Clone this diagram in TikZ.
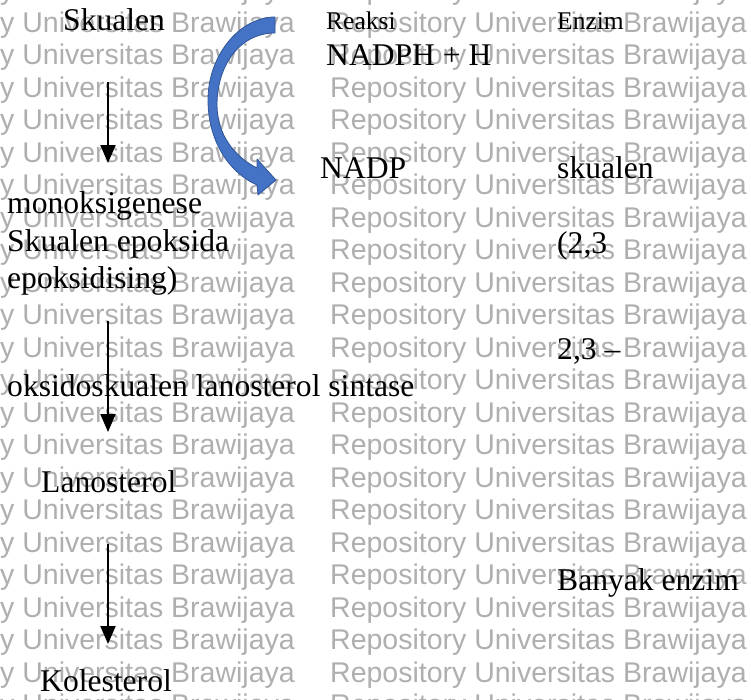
\documentclass[tikz,border=0pt]{standalone}
\usepackage{fontspec}
\setmainfont{Liberation Serif}
\newfontfamily\wmfont{Liberation Sans}
\usetikzlibrary{arrows.meta}
\definecolor{wmgray}{RGB}{175,175,175}
\definecolor{arrowblue}{RGB}{68,114,196}
\definecolor{arrowedge}{RGB}{47,85,151}
\begin{document}
\begin{tikzpicture}[x=1pt,y=-1pt,
  wm/.style={font=\wmfont\fontsize{28.5}{28.5}\selectfont, text=wmgray, inner sep=0},
  lbl/.style={font=\fontsize{31.6}{31.6}\selectfont, anchor=base west, inner sep=0},
  hdr/.style={font=\fontsize{25.5}{25.5}\selectfont, anchor=base west, inner sep=0},
  flow/.style={line width=2pt, -{Triangle[length=18pt,width=15pt]}}]
\useasboundingbox (0,0) rectangle (751,699);
\fill[white] (0,0) rectangle (751,699);
% watermark
\begin{scope}
\clip (0,0) rectangle (751,699);
\foreach \k in {-1,...,21}{
  \node[wm, anchor=base east] (wml\k) at (295,{32+32.5*(\k)}) {Repository Universitas Brawijaya};
  \node[wm, anchor=base west] (wmr\k) at (330,{32+32.5*(\k)}) {Repository Universitas Brawijaya};
}
\end{scope}
% curved block arrow
\draw[fill=arrowblue, draw=arrowedge, line width=0.8pt, line join=round]
  (275,17) .. controls (240,17) and (208,55) .. (208,100)
  .. controls (208,140) and (228,172) .. (257,185)
  -- (258,195) -- (276,180) -- (257,159) -- (257,168)
  .. controls (235,157) and (217,135) .. (217,105)
  .. controls (217,65) and (240,33) .. (275,33) -- cycle;
% texts
\node[lbl] (skualen) at (63,30) {Skualen};
\node[hdr] (reaksi) at (326,29) {Reaksi};
\node[hdr] (enzim) at (557,29) {Enzim};
\node[lbl] (nadph) at (326,65) {NADPH + H};
\node[lbl] (nadp) at (320,178) {NADP};
\node[lbl] (enz1) at (557,178) {skualen};
\node[lbl] (mono) at (7,213) {monoksigenese};
\node[lbl] (epox) at (7,251) {Skualen epoksida};
\node[lbl] (enz2) at (557,253) {(2,3};
\node[lbl] (epoxing) at (7,288) {epoksidising)};
\node[lbl] (enz3) at (557,359) {2,3 –};
\node[lbl] (oksido) at (7,396) {oksidoskualen lanosterol sintase};
\node[lbl] (lano) at (41,492) {Lanosterol};
\node[lbl] (banyak) at (557,590) {Banyak enzim};
\node[lbl] (kole) at (40,691) {Kolesterol};
% vertical arrows
\coordinate (a1s) at (108,82);  \coordinate (a1e) at (108,163);
\coordinate (a2s) at (108,321); \coordinate (a2e) at (108,432);
\coordinate (a3s) at (108,544); \coordinate (a3e) at (108,644);
\draw[flow] (a1s) -- (a1e);
\draw[flow] (a2s) -- (a2e);
\draw[flow] (a3s) -- (a3e);
\end{tikzpicture}
\end{document}
